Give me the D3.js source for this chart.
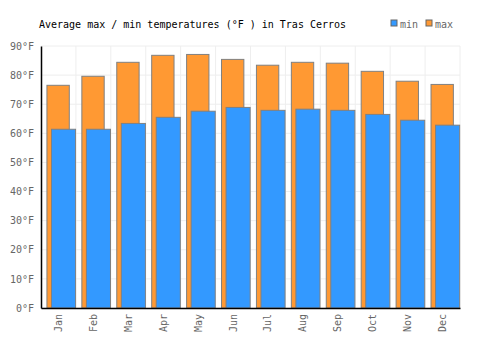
<!DOCTYPE html>
<html>
<head>
<meta charset="utf-8">
<script src="https://cdn.jsdelivr.net/npm/d3@7"></script>
<style>
  body { margin: 0; background: #fff; }
  text { font-family: "DejaVu Sans Mono", monospace; }
</style>
</head>
<body>
<svg width="500" height="350"></svg>
<script>
const months = ["Jan", "Feb", "Mar", "Apr", "May", "Jun", "Jul", "Aug", "Sep", "Oct", "Nov", "Dec"];
const maxTemps = [76.5, 79.6, 84.4, 86.8, 87.1, 85.4, 83.4, 84.4, 84.1, 81.3, 77.9, 76.8];
const minTemps = [61.4, 61.4, 63.4, 65.5, 67.6, 68.9, 67.9, 68.3, 67.9, 66.5, 64.5, 62.8];
const yTicks = [0, 10, 20, 30, 40, 50, 60, 70, 80, 90];

const svg = d3.select("svg");

let xScale = d3.scaleBand().domain(months).range([41, 460]);
let yScale = d3.scaleLinear().domain([0, 90]).range([308, 46]);
const bw = xScale.bandwidth();

// grid
svg.append("g").selectAll("line.h")
  .data(yTicks)
  .join("line")
  .attr("x1", 41).attr("x2", 460)
  .attr("y1", d => yScale(d)).attr("y2", d => yScale(d))
  .style("stroke", "#eeeeee").style("stroke-width", 1);

svg.append("g").selectAll("line.v")
  .data(months)
  .join("line")
  .attr("x1", d => xScale(d) + bw).attr("x2", d => xScale(d) + bw)
  .attr("y1", 46).attr("y2", 308)
  .style("stroke", "#eeeeee").style("stroke-width", 1);

// max bars
svg.append("g").selectAll("rect")
  .data(maxTemps)
  .join("rect")
  .attr("x", (d, i) => xScale(months[i]) + bw * 0.17)
  .attr("y", d => yScale(d))
  .attr("width", bw * 0.64)
  .attr("height", d => yScale(0) - yScale(d))
  .style("fill", "#ff9933")
  .style("stroke", "#808080");

// min bars
svg.append("g").selectAll("rect")
  .data(minTemps)
  .join("rect")
  .attr("x", (d, i) => xScale(months[i]) + bw * 0.3)
  .attr("y", d => yScale(d))
  .attr("width", bw * 0.69)
  .attr("height", d => yScale(0) - yScale(d))
  .style("fill", "#3399ff")
  .style("stroke", "#808080");

// axes
let yAxis = d3.axisLeft(yScale).tickValues(yTicks).tickSize(0).tickPadding(7)
  .tickFormat(d => d + "°F");
let gy = svg.append("g").attr("transform", "translate(41,0)").call(yAxis);
gy.select(".domain").attr("stroke", "#000").attr("stroke-width", 1.5);
gy.selectAll("text").style("fill", "#666").style("font-size", "10px")
  .style("font-family", "'DejaVu Sans Mono', monospace");

let xAxis = d3.axisBottom(xScale).tickSize(0);
let gx = svg.append("g").attr("transform", "translate(0,308)").call(xAxis);
gx.select(".domain").attr("stroke", "#000").attr("stroke-width", 1.5);
gx.selectAll("text")
  .attr("transform", "rotate(-90)")
  .attr("x", -6).attr("y", 0).attr("dy", "0.35em")
  .style("text-anchor", "end")
  .style("fill", "#666").style("font-size", "10px")
  .style("font-family", "'DejaVu Sans Mono', monospace");

// title
svg.append("text")
  .attr("x", 39).attr("y", 28)
  .style("font-size", "10px").style("fill", "#000")
  .text("Average max / min temperatures (°F ) in Tras Cerros");

// legend
const legend = [["min", "#3399ff", 391], ["max", "#ff9933", 426]];
legend.forEach(([label, color, x]) => {
  svg.append("rect").attr("x", x).attr("y", 20).attr("width", 6).attr("height", 6)
    .style("fill", color).style("stroke", "#666");
  svg.append("text").attr("x", x + 9).attr("y", 28)
    .style("font-size", "10px").style("fill", "#666").text(label);
});
</script>
</body>
</html>
